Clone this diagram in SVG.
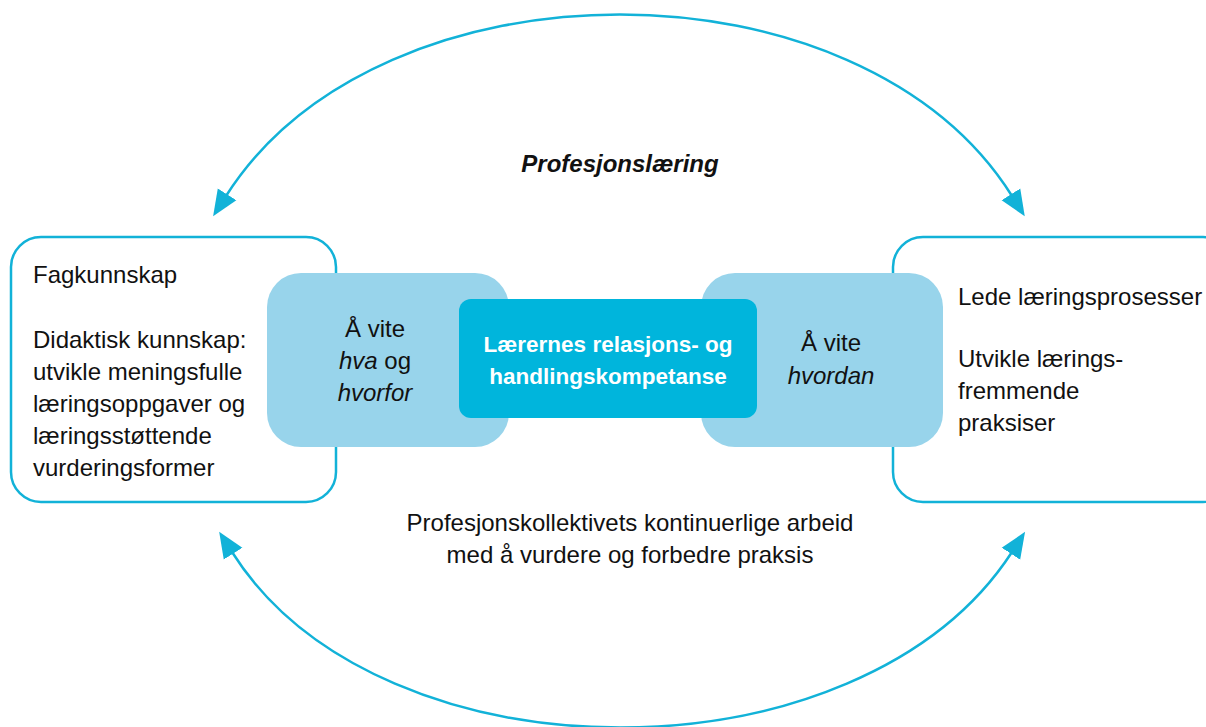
<svg xmlns="http://www.w3.org/2000/svg" width="1206" height="727" viewBox="0 0 1206 727">
<style>
.box{fill:#fff;stroke:#12b2d8;stroke-width:2.5}
.lb{fill:#98d4eb}
.db{fill:#00b5dc}
.t{font-family:"Liberation Sans",Arial,sans-serif;font-size:24px;fill:#111}
.w{font-family:"Liberation Sans",Arial,sans-serif;font-size:22.5px;font-weight:bold;fill:#fff}
.conn{fill:none;stroke:#12b2d8;stroke-width:2.5}
</style>
<defs>
<marker id="ah" markerUnits="userSpaceOnUse" markerWidth="30" markerHeight="24" refX="2" refY="11" orient="auto-start-reverse" viewBox="0 0 30 22">
<path d="M0,0 L26,11 L0,22 z" fill="#12b2d8"/>
</marker>
</defs>
<g id="connectors">
<path class="conn" d="M226,196 C380,-46 860,-46 1012,196" marker-start="url(#ah)" marker-end="url(#ah)"/>
<path class="conn" d="M232,552 C380,786 860,786 1012,552" marker-start="url(#ah)" marker-end="url(#ah)"/>
</g>
<g id="left-box">
<rect class="box" x="11" y="237" width="325" height="265" rx="30"/>
<text class="t" x="33" y="283">Fagkunnskap</text>
<text class="t" x="33" y="348">Didaktisk kunnskap:</text>
<text class="t" x="33" y="380">utvikle meningsfulle</text>
<text class="t" x="33" y="412">læringsoppgaver og</text>
<text class="t" x="33" y="444">læringsstøttende</text>
<text class="t" x="33" y="476">vurderingsformer</text>
</g>
<g id="right-box">
<rect class="box" x="893" y="237" width="340" height="265" rx="30"/>
<text class="t" x="958" y="305">Lede læringsprosesser</text>
<text class="t" x="958" y="367">Utvikle lærings-</text>
<text class="t" x="958" y="399">fremmende</text>
<text class="t" x="958" y="431">praksiser</text>
</g>
<g id="left-mid">
<rect class="lb" x="267" y="273" width="242" height="174" rx="34"/>
<text class="t" x="375" y="337" text-anchor="middle">Å vite</text>
<text class="t" x="375" y="369" text-anchor="middle"><tspan font-style="italic">hva</tspan> og</text>
<text class="t" x="375" y="401" text-anchor="middle" font-style="italic">hvorfor</text>
</g>
<g id="right-mid">
<rect class="lb" x="701" y="273" width="242" height="174" rx="34"/>
<text class="t" x="831" y="351" text-anchor="middle">Å vite</text>
<text class="t" x="831" y="384" text-anchor="middle" font-style="italic">hvordan</text>
</g>
<g id="center">
<rect class="db" x="459" y="299" width="298" height="119" rx="12"/>
<text class="w" x="608" y="352" text-anchor="middle">Lærernes relasjons- og</text>
<text class="w" x="608" y="384" text-anchor="middle">handlingskompetanse</text>
</g>
<g id="labels">
<text class="t" x="620" y="172" text-anchor="middle" font-weight="bold" font-style="italic" font-size="25">Profesjonslæring</text>
<text class="t" x="630" y="531" text-anchor="middle">Profesjonskollektivets kontinuerlige arbeid</text>
<text class="t" x="630" y="563" text-anchor="middle">med å vurdere og forbedre praksis</text>
</g>
</svg>
